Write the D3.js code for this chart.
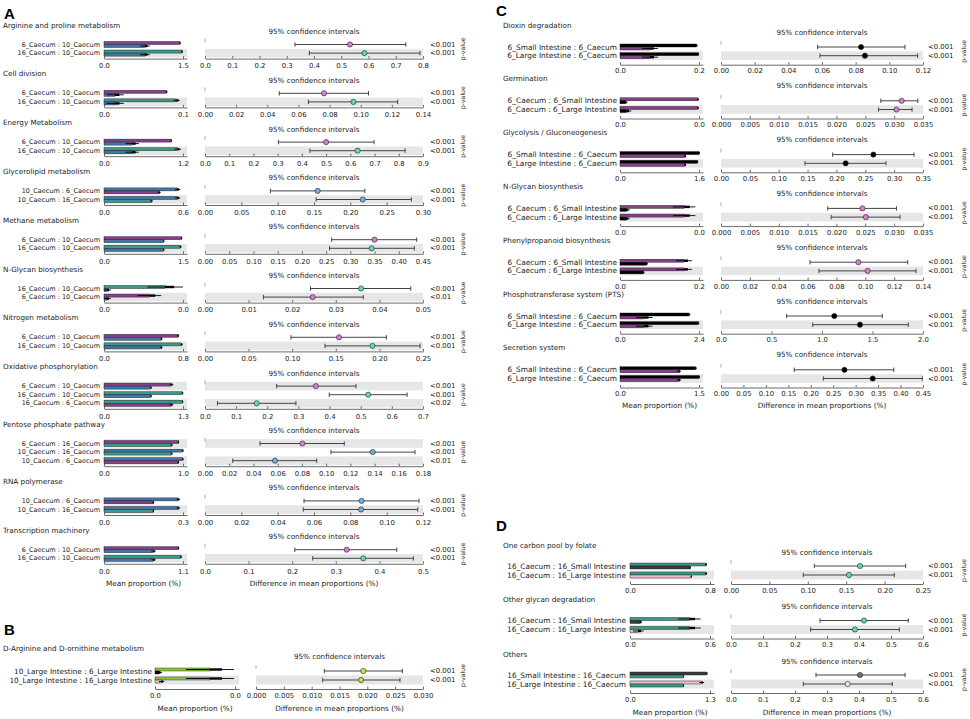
<!DOCTYPE html>
<html>
<head>
<meta charset="utf-8">
<script src="https://cdn.jsdelivr.net/npm/d3@7"></script>
<style>
  body { margin: 0; background: #fff; }
  svg text { font-family: "DejaVu Sans", sans-serif; fill: #222; }
  .axis path, .axis line { stroke: #444; stroke-width: 0.8; }
  .axis text { font-size: 6.9px; fill: #222; }
</style>
</head>
<body>
<svg id="chart" width="970" height="719"></svg>
<script>
// Row format: [comparison, mean1, err1, mean2, err2, diff, ciLow, ciHigh, p]
const panelA = [
    {name: "Arginine and proline metabolism", barMax: 1.5, diffMax: 0.8, diffStep: 0.1, rows: [
        ["6_Caecum : 10_Caecum", 1.44, 0.01, 0.78, 0.09, 0.532, 0.330, 0.737, "<0.001"],
        ["16_Caecum : 10_Caecum", 1.48, 0.01, 0.78, 0.09, 0.585, 0.383, 0.789, "<0.001"]]},
    {name: "Cell division", barMax: 0.1, diffMax: 0.14, diffStep: 0.02, rows: [
        ["6_Caecum : 10_Caecum", 0.079, 0.001, 0.014, 0.011, 0.0764, 0.0477, 0.105, "<0.001"],
        ["16_Caecum : 10_Caecum", 0.092, 0.004, 0.014, 0.011, 0.0953, 0.0664, 0.1237, "<0.001"]]},
    {name: "Energy Metabolism", barMax: 1.2, diffMax: 0.9, diffStep: 0.1, rows: [
        ["6_Caecum : 10_Caecum", 1.02, 0.01, 0.43, 0.10, 0.50, 0.303, 0.698, "<0.001"],
        ["16_Caecum : 10_Caecum", 1.12, 0.05, 0.43, 0.10, 0.63, 0.433, 0.826, "<0.001"]]},
    {name: "Glycerolipid metabolism", barMax: 0.6, diffMax: 0.3, diffStep: 0.05, rows: [
        ["10_Caecum : 6_Caecum", 0.56, 0.02, 0.42, 0.01, 0.155, 0.090, 0.220, "<0.001"],
        ["10_Caecum : 16_Caecum", 0.56, 0.02, 0.36, 0.01, 0.217, 0.153, 0.284, "<0.001"]]},
    {name: "Methane metabolism", barMax: 1.5, diffMax: 0.45, diffStep: 0.05, rows: [
        ["6_Caecum : 10_Caecum", 1.47, 0.01, 1.13, 0.01, 0.350, 0.2615, 0.437, "<0.001"],
        ["16_Caecum : 10_Caecum", 1.45, 0.02, 1.13, 0.01, 0.344, 0.257, 0.432, "<0.001"]]},
    {name: "N-Glycan biosynthesis", barMax: 0.04, diffMax: 0.05, diffStep: 0.01, rows: [
        ["16_Caecum : 10_Caecum", 0.031, 0.009, 0.0015, 0.002, 0.0358, 0.0242, 0.0472, "<0.001"],
        ["6_Caecum : 10_Caecum", 0.023, 0.006, 0.0015, 0.002, 0.0247, 0.0134, 0.0363, "<0.01"]]},
    {name: "Nitrogen metabolism", barMax: 0.8, diffMax: 0.25, diffStep: 0.05, rows: [
        ["6_Caecum : 10_Caecum", 0.75, 0.01, 0.58, 0.01, 0.1537, 0.0986, 0.208, "<0.001"],
        ["16_Caecum : 10_Caecum", 0.785, 0.01, 0.58, 0.01, 0.192, 0.1376, 0.2466, "<0.001"]]},
    {name: "Oxidative phosphorylation", barMax: 1.3, diffMax: 0.7, diffStep: 0.1, rows: [
        ["6_Caecum : 10_Caecum", 1.11, 0.03, 0.77, 0.01, 0.356, 0.230, 0.485, "<0.001"],
        ["16_Caecum : 10_Caecum", 1.29, 0.01, 0.77, 0.01, 0.524, 0.399, 0.649, "<0.001"],
        ["16_Caecum : 6_Caecum", 1.29, 0.01, 1.11, 0.03, 0.166, 0.040, 0.292, "<0.02"]]},
    {name: "Pentose phosphate pathway", barMax: 1.0, diffMax: 0.18, diffStep: 0.02, rows: [
        ["6_Caecum : 16_Caecum", 0.94, 0.01, 0.855, 0.01, 0.0804, 0.0454, 0.115, "<0.001"],
        ["10_Caecum : 16_Caecum", 0.995, 0.01, 0.855, 0.01, 0.1385, 0.104, 0.1734, "<0.001"],
        ["10_Caecum : 6_Caecum", 0.995, 0.01, 0.94, 0.01, 0.0578, 0.0229, 0.0922, "<0.01"]]},
    {name: "RNA polymerase", barMax: 0.3, diffMax: 0.12, diffStep: 0.02, rows: [
        ["10_Caecum : 6_Caecum", 0.282, 0.007, 0.187, 0.003, 0.0862, 0.0545, 0.1178, "<0.001"],
        ["10_Caecum : 16_Caecum", 0.282, 0.007, 0.187, 0.003, 0.0859, 0.0541, 0.1171, "<0.001"]]},
    {name: "Transcription machinery", barMax: 1.1, diffMax: 0.5, diffStep: 0.1, rows: [
        ["6_Caecum : 10_Caecum", 1.035, 0.01, 0.69, 0.03, 0.325, 0.206, 0.440, "<0.001"],
        ["16_Caecum : 10_Caecum", 1.07, 0.01, 0.69, 0.03, 0.363, 0.247, 0.478, "<0.001"]]}
];

const panelB = [
    {name: "D-Arginine and D-ornithine metabolism", barMax: 0.03, diffMax: 0.03, diffStep: 0.005, rows: [
        ["10_Large Intestine : 6_Large Intestine", 0.0206, 0.009, 0.0016, 0.001, 0.01928, 0.01227, 0.02629, "<0.001"],
        ["10_Large Intestine : 16_Large Intestine", 0.0206, 0.009, 0.0025, 0.001, 0.01886, 0.01198, 0.02587, "<0.001"]]}
];

const panelC = [
    {name: "Dioxin degradation", barMax: 0.2, diffMax: 0.12, diffStep: 0.02, rows: [
        ["6_Small Intestine : 6_Caecum", 0.194, 0.001, 0.076, 0.02, 0.0832, 0.0574, 0.1093, "<0.001"],
        ["6_Large Intestine : 6_Caecum", 0.198, 0.001, 0.076, 0.02, 0.0855, 0.0588, 0.1168, "<0.001"]]},
    {name: "Germination", barMax: 0.035, diffMax: 0.035, diffStep: 0.005, rows: [
        ["6_Caecum : 6_Small Intestine", 0.0345, 0.0003, 0.0025, 0.0008, 0.0313, 0.0277, 0.0341, "<0.001"],
        ["6_Caecum : 6_Large Intestine", 0.0345, 0.0003, 0.003, 0.002, 0.0304, 0.0273, 0.0331, "<0.001"]]},
    {name: "Glycolysis / Gluconeogenesis", barMax: 1.6, diffMax: 0.35, diffStep: 0.05, rows: [
        ["6_Small Intestine : 6_Caecum", 1.6, 0.005, 1.317, 0.02, 0.264, 0.1935, 0.3344, "<0.001"],
        ["6_Large Intestine : 6_Caecum", 1.566, 0.01, 1.317, 0.02, 0.216, 0.1455, 0.2859, "<0.001"]]},
    {name: "N-Glycan biosynthesis", barMax: 0.032, diffMax: 0.035, diffStep: 0.005, rows: [
        ["6_Caecum : 6_Small Intestine", 0.026, 0.0045, 0.0027, 0.0012, 0.0245, 0.0185, 0.0304, "<0.001"],
        ["6_Caecum : 6_Large Intestine", 0.026, 0.0045, 0.0027, 0.0012, 0.0251, 0.0191, 0.031, "<0.001"]]},
    {name: "Phenylpropanoid biosynthesis", barMax: 0.2, diffMax: 0.14, diffStep: 0.02, rows: [
        ["6_Caecum : 6_Small Intestine", 0.162, 0.02, 0.0675, 0.003, 0.0952, 0.0617, 0.1294, "<0.001"],
        ["6_Caecum : 6_Large Intestine", 0.162, 0.02, 0.059, 0.003, 0.1016, 0.0679, 0.1351, "<0.001"]]},
    {name: "Phosphotransferase system (PTS)", barMax: 2.4, diffMax: 2.0, diffStep: 0.5, rows: [
        ["6_Small Intestine : 6_Caecum", 2.096, 0.04, 0.74, 0.25, 1.122, 0.650, 1.597, "<0.001"],
        ["6_Large Intestine : 6_Caecum", 2.38, 0.02, 0.74, 0.25, 1.376, 0.908, 1.855, "<0.001"]]},
    {name: "Secretion system", barMax: 1.5, diffMax: 0.45, diffStep: 0.05, rows: [
        ["6_Small Intestine : 6_Caecum", 1.437, 0.01, 1.12, 0.04, 0.275, 0.163, 0.385, "<0.001"],
        ["6_Large Intestine : 6_Caecum", 1.5, 0.01, 1.12, 0.04, 0.338, 0.228, 0.4485, "<0.001"]]}
];

const panelD = [
    {name: "One carbon pool by folate", barMax: 0.8, diffMax: 0.25, diffStep: 0.05, rows: [
        ["16_Caecum : 16_Small Intestine", 0.76, 0.01, 0.60, 0.003, 0.168, 0.1085, 0.2274, "<0.001"],
        ["16_Caecum : 16_Large Intestine", 0.76, 0.01, 0.61, 0.005, 0.1536, 0.0941, 0.2126, "<0.001"]]},
    {name: "Other glycan degradation", barMax: 0.6, diffMax: 0.6, diffStep: 0.1, rows: [
        ["16_Caecum : 16_Small Intestine", 0.445, 0.085, 0.08, 0.01, 0.4156, 0.278, 0.554, "<0.001"],
        ["16_Caecum : 16_Large Intestine", 0.445, 0.085, 0.062, 0.04, 0.3875, 0.249, 0.526, "<0.001"]]},
    {name: "Others", barMax: 1.3, diffMax: 0.6, diffStep: 0.1, rows: [
        ["16_Small Intestine : 16_Caecum", 1.246, 0.01, 0.866, 0.005, 0.403, 0.2656, 0.5438, "<0.001"],
        ["16_Large Intestine : 16_Caecum", 1.165, 0.04, 0.866, 0.005, 0.3646, 0.2259, 0.504, "<0.001"]]}
];

// group colours (bars) and lighter marker colours (difference plot)
const barColor = {
    "6_Caecum": "#86408a", "10_Caecum": "#4276a6", "16_Caecum": "#3a9a8a",
    "6_Small Intestine": "#000000", "6_Large Intestine": "#000000",
    "16_Small Intestine": "#3c3c3c", "16_Large Intestine": "#f2b8cb",
    "10_Large Intestine": "#8cc63f"
};
const markerColor = {
    "6_Caecum": "#d67fd0", "10_Caecum": "#6fb1e3", "16_Caecum": "#5fd6c2",
    "6_Small Intestine": "#000000", "6_Large Intestine": "#000000",
    "16_Small Intestine": "#6e6e6e", "16_Large Intestine": "#fbdbe5",
    "10_Large Intestine": "#c7e53c"
};

const layouts = [
    {data: panelA, letter: "A", letterX: 4, letterY: 13, titleX: 3, top: 25, labelRight: 100, labelSize: 6.5,
     barX0: 104, barX1: 183, diffX0: 205, diffX1: 423, pX: 430, pLabelX: 462,
     header: 19.5, step: 8.6, footer: 20.7, ciOff: 6.5, axisGap: 5.5, tickOff: 13, xlabelOff: 25},
    {data: panelB, letter: "B", letterX: 4, letterY: 629, titleX: 3, top: 648, labelRight: 152, labelSize: 7.3,
     barX0: 155, barX1: 235, diffX0: 256, diffX1: 423, pX: 430, pLabelX: 462,
     header: 23, step: 9, footer: 24, ciOff: 8, axisGap: 9, tickOff: 16, xlabelOff: 28},
    {data: panelC, letter: "C", letterX: 496, letterY: 10, titleX: 503, top: 25, labelRight: 617, labelSize: 7.4,
     barX0: 620, barX1: 699, diffX0: 721, diffX1: 923, pX: 928, pLabelX: 963,
     header: 22, step: 8.7, footer: 23.1, ciOff: 7, axisGap: 9, tickOff: 15.5, xlabelOff: 27},
    {data: panelD, letter: "D", letterX: 496, letterY: 525, titleX: 503, top: 545, labelRight: 626, labelSize: 7.4,
     barX0: 630, barX1: 710, diffX0: 731, diffX1: 923, pX: 928, pLabelX: 963,
     header: 21, step: 9, footer: 24.5, ciOff: 7, axisGap: 9, tickOff: 15.5, xlabelOff: 28}
];

const svg = d3.select("#chart");
const barH = 6;

function drawPanel(L) {
    const panel = svg.append("g");
    const barEnd = L.barX0 + (L.barX1 - L.barX0) * 1.05;

    panel.append("text")
        .attr("x", L.letterX).attr("y", L.letterY)
        .attr("dominant-baseline", "central")
        .style("font-family", "'Liberation Sans', Arial, sans-serif")
        .style("font-weight", "bold").style("font-size", "15px").style("fill", "#000")
        .text(L.letter);

    let y = L.top;
    let lastRowY = y;
    L.data.forEach(f => {
        const g = panel.append("g");
        const n = f.rows.length;
        const rowY = i => y + L.header + i * L.step;
        lastRowY = rowY(n - 1);

        const x = d3.scaleLinear().domain([0, f.barMax * 1.05]).range([L.barX0, barEnd]);
        const dx = d3.scaleLinear().domain([0, f.diffMax]).range([L.diffX0, L.diffX1]);

        // feature title and CI caption
        g.append("text").attr("x", L.titleX).attr("y", y)
            .attr("dominant-baseline", "central").style("font-size", "7.2px")
            .text(f.name);
        g.append("text").attr("x", (L.diffX0 + L.diffX1) / 2).attr("y", y + L.ciOff)
            .attr("dominant-baseline", "central").attr("text-anchor", "middle")
            .style("font-size", "7.2px").text("95% confidence intervals");

        // alternating grey bands, starting from the bottom row
        f.rows.forEach((r, i) => {
            if ((n - 1 - i) % 2 !== 0) return;
            g.append("rect").attr("x", L.barX0).attr("y", rowY(i) - L.step / 2)
                .attr("width", barEnd - L.barX0).attr("height", L.step).attr("fill", "#e6e6e6");
            g.append("rect").attr("x", L.diffX0).attr("y", rowY(i) - L.step / 2)
                .attr("width", L.diffX1 - L.diffX0).attr("height", L.step).attr("fill", "#e6e6e6");
        });

        // zero reference dash on the difference plot
        g.append("line")
            .attr("x1", dx(0)).attr("x2", dx(0))
            .attr("y1", rowY(0) - 6).attr("y2", rowY(0) - 2)
            .attr("stroke", "#999").attr("stroke-width", 0.8);

        f.rows.forEach((r, i) => {
            const [label, m1, e1, m2, e2, diff, lo, hi, p] = r;
            const [g1, g2] = label.split(" : ");
            const cy = rowY(i);

            g.append("text").attr("x", L.labelRight).attr("y", cy)
                .attr("text-anchor", "end").attr("dominant-baseline", "central")
                .style("font-size", L.labelSize + "px").text(label);

            [[g1, m1, e1, cy - barH / 2], [g2, m2, e2, cy]].forEach(([grp, m, e, by]) => {
                g.append("rect")
                    .attr("x", x(0)).attr("y", by)
                    .attr("width", x(m) - x(0)).attr("height", barH / 2)
                    .attr("fill", barColor[grp])
                    .attr("stroke", "#111").attr("stroke-width", 0.4);
                // error bar: heavy part near the mean, thin whisker beyond
                g.append("rect")
                    .attr("x", x(m)).attr("y", by + 0.3)
                    .attr("width", Math.max(0.8, x(m + e * 0.5) - x(m))).attr("height", barH / 2 - 0.6)
                    .attr("fill", "#000");
                g.append("line")
                    .attr("x1", x(Math.max(0, m - e))).attr("x2", x(m + e))
                    .attr("y1", by + barH / 4).attr("y2", by + barH / 4)
                    .attr("stroke", "#000").attr("stroke-width", 0.9);
            });

            // confidence interval with caps
            g.append("line").attr("x1", dx(lo)).attr("x2", dx(hi))
                .attr("y1", cy).attr("y2", cy)
                .attr("stroke", "#444").attr("stroke-width", 1);
            [lo, hi].forEach(v => g.append("line")
                .attr("x1", dx(v)).attr("x2", dx(v))
                .attr("y1", cy - 2.2).attr("y2", cy + 2.2)
                .attr("stroke", "#444").attr("stroke-width", 1));
            g.append("circle").attr("cx", dx(diff)).attr("cy", cy).attr("r", 2.6)
                .attr("fill", markerColor[g1]).attr("stroke", "#222").attr("stroke-width", 0.6);

            g.append("text").attr("x", L.pX).attr("y", cy)
                .attr("dominant-baseline", "central").style("font-size", "6.9px").text(p);
        });

        // axes
        const axisY = lastRowY + L.axisGap;
        const pad = L.tickOff - L.axisGap - 2.6;
        g.append("g").attr("class", "axis")
            .attr("transform", `translate(0,${axisY})`)
            .call(d3.axisBottom(x).tickValues([0, f.barMax]).tickFormat(d3.format(".1f"))
                .tickSizeInner(-2.5).tickSizeOuter(0).tickPadding(pad));

        const nTicks = Math.round(f.diffMax / f.diffStep);
        const decimals = Math.max(1, Math.ceil(-Math.log10(f.diffStep) - 1e-9));
        g.append("g").attr("class", "axis")
            .attr("transform", `translate(0,${axisY})`)
            .call(d3.axisBottom(dx).tickValues(d3.range(nTicks + 1).map(k => k * f.diffStep))
                .tickFormat(d3.format(`.${decimals}f`))
                .tickSizeInner(-2.5).tickSizeOuter(0).tickPadding(pad));

        // rotated p-value caption
        const midY = (rowY(0) + lastRowY) / 2;
        g.append("text")
            .attr("transform", `translate(${L.pLabelX},${midY}) rotate(-90)`)
            .attr("text-anchor", "middle").attr("dominant-baseline", "central")
            .style("font-size", "6.2px").text("p-value");

        y += L.header + (n - 1) * L.step + L.footer;
    });

    // axis titles below the last feature
    panel.append("text").attr("x", (L.barX0 + L.barX1) / 2).attr("y", lastRowY + L.xlabelOff)
        .attr("text-anchor", "middle").attr("dominant-baseline", "central")
        .style("font-size", "7.3px").text("Mean proportion (%)");
    panel.append("text").attr("x", (L.diffX0 + L.diffX1) / 2).attr("y", lastRowY + L.xlabelOff)
        .attr("text-anchor", "middle").attr("dominant-baseline", "central")
        .style("font-size", "7.3px").text("Difference in mean proportions (%)");
}

layouts.forEach(drawPanel);
</script>
</body>
</html>
